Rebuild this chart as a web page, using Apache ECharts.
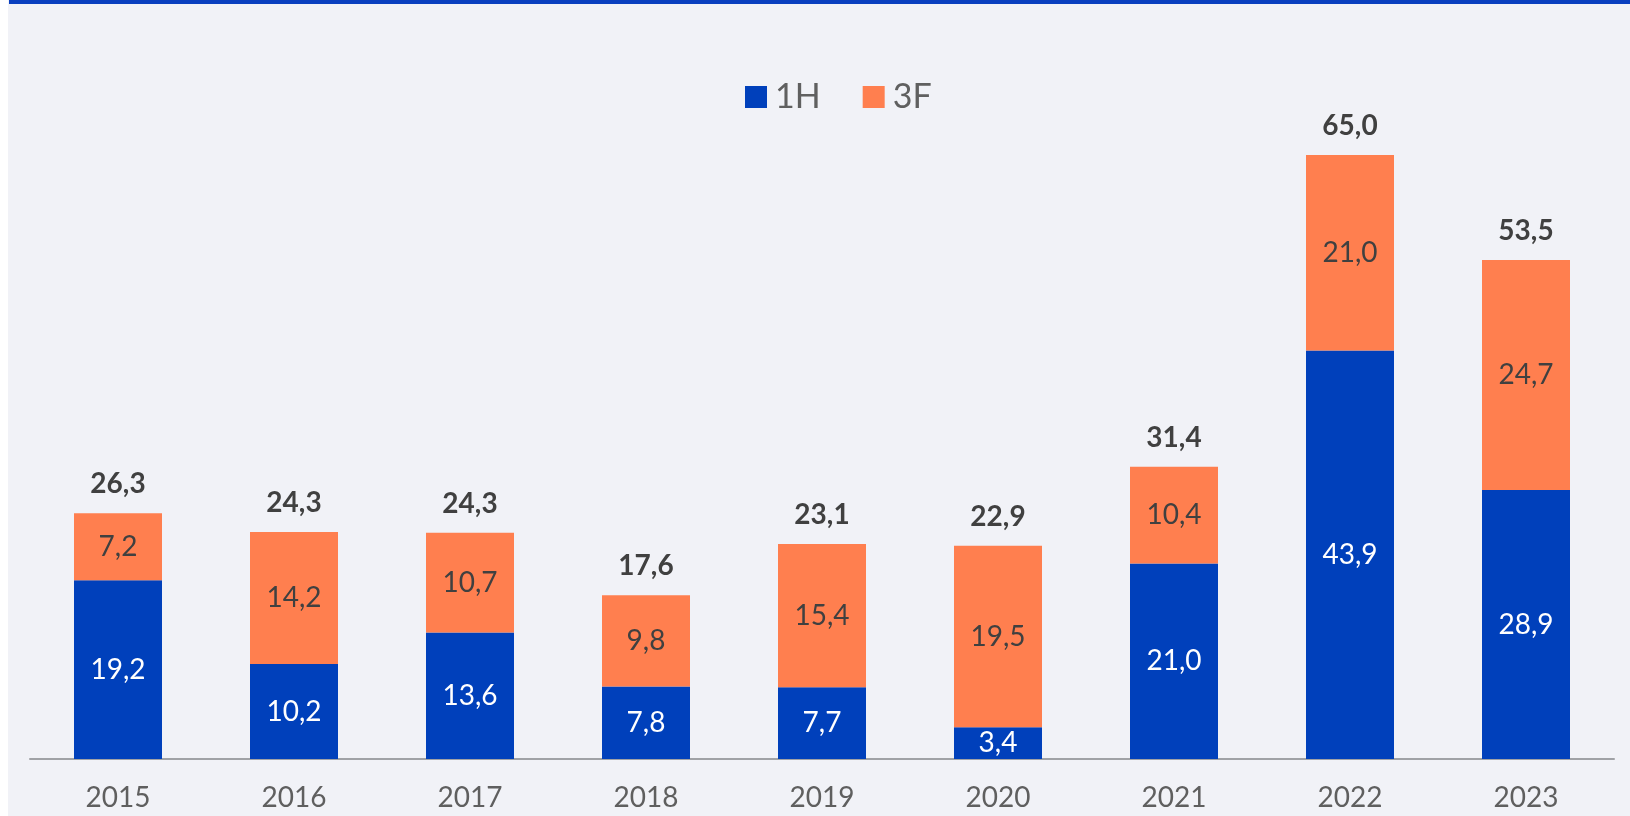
<!DOCTYPE html>
<html>
<head>
<meta charset="utf-8">
<script src="https://cdn.jsdelivr.net/npm/echarts@6/dist/echarts.min.js"></script>
<style>
  html, body { margin: 0; padding: 0; background: #ffffff; }
  #main { width: 1630px; height: 816px; }
</style>
</head>
<body>
<div id="main"></div>
<script>
// data
var years = ["2015", "2016", "2017", "2018", "2019", "2020", "2021", "2022", "2023"];
var h1 = [19.2, 10.2, 13.6, 7.8, 7.7, 3.4, 21.0, 43.9, 28.9];
var f3 = [7.2, 14.2, 10.7, 9.8, 15.4, 19.5, 10.4, 21.0, 24.7];
var totals = [26.3, 24.3, 24.3, 17.6, 23.1, 22.9, 31.4, 65.0, 53.5];

var fmt = function (v) {
  return v.toFixed(1).replace(".", ",");
};

var myChart = echarts.init(document.getElementById("main"));
var option = {
  backgroundColor: "#F1F2F7",
  textStyle: { fontFamily: "Lato" },
  animation: false,
  graphic: [
    { type: "rect", left: 0, top: 0, shape: { width: 8, height: 816 }, style: { fill: "#ffffff" } },
    { type: "rect", left: 9, top: 0, shape: { width: 1621, height: 4 }, style: { fill: "#0A3FBF" } }
  ],
  legend: {
    data: ["1H", "3F"],
    left: 740,
    top: 75,
    itemWidth: 22,
    itemHeight: 22,
    itemGap: 42,
    icon: "rect",
    textStyle: { fontSize: 34, color: "#606060", padding: [0, 0, 0, 3] }
  },
  grid: { left: 30, right: 16, top: 154, bottom: 57 },
  xAxis: {
    type: "category",
    data: years,
    axisTick: { show: false },
    axisLine: { lineStyle: { color: "#A0A2A6", width: 2 } },
    axisLabel: { fontSize: 28, color: "#5F5F5F", margin: 25 }
  },
  yAxis: {
    type: "value",
    min: 0,
    max: 65,
    show: false,
    splitLine: { show: false }
  },
  series: [
    {
      name: "1H",
      type: "bar",
      stack: "a",
      barWidth: "50%",
      data: h1,
      itemStyle: { color: "#0040BB" },
      label: {
        show: true,
        position: "inside",
        color: "#ffffff",
        fontSize: 28,
        formatter: function (p) { return fmt(p.value); }
      }
    },
    {
      name: "3F",
      type: "bar",
      stack: "a",
      data: f3,
      itemStyle: { color: "#FF7F4F" },
      label: {
        show: true,
        position: "inside",
        color: "#404040",
        fontSize: 28,
        formatter: function (p) { return fmt(p.value); }
      }
    },
    {
      name: "total",
      type: "bar",
      stack: "a",
      data: years.map(function () { return 0; }),
      itemStyle: { color: "transparent" },
      label: {
        show: true,
        position: "top",
        distance: 15,
        color: "#404040",
        fontSize: 28,
        fontWeight: "bold",
        formatter: function (p) { return fmt(totals[p.dataIndex]); }
      }
    }
  ]
};
myChart.setOption(option);
</script>
</body>
</html>
